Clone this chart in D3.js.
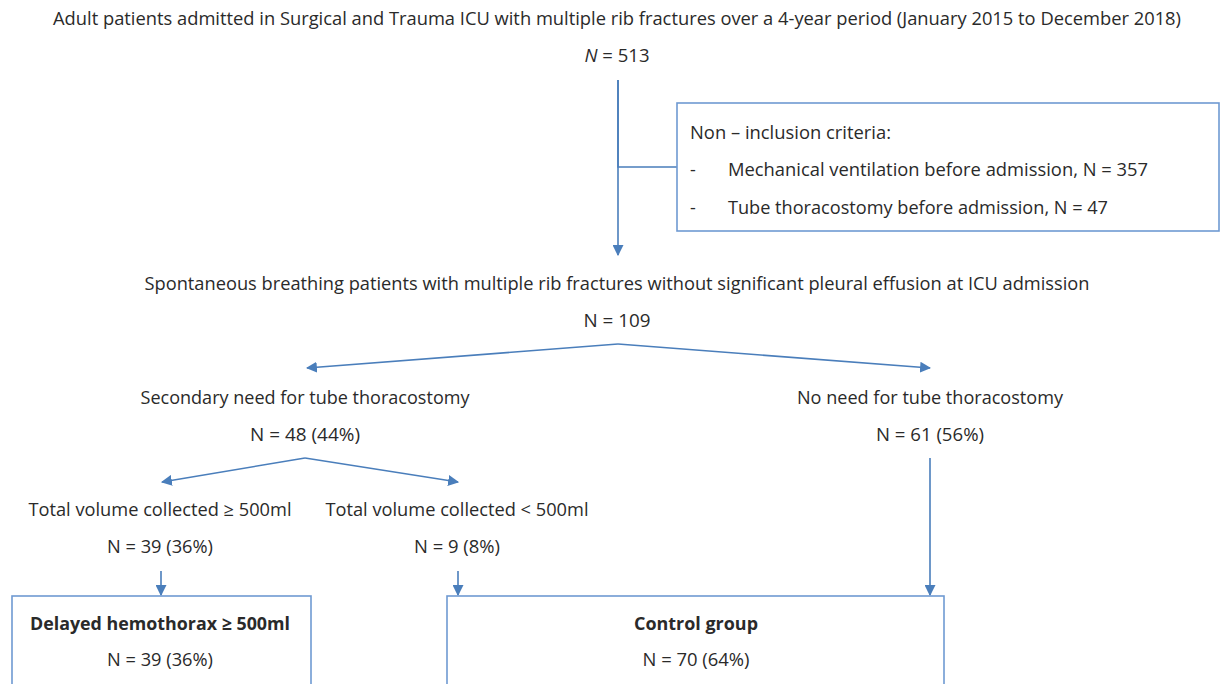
<!DOCTYPE html>
<html>
<head>
<meta charset="utf-8">
<script src="https://d3js.org/d3.v7.min.js"></script>
<style>
  body { margin: 0; background: #fff; }
  text { font-family: "Open Sans", "Noto Sans", sans-serif; fill: #2a2a2a; }
</style>
</head>
<body>
<div id="chart"></div>
<script>
// ---- data ----
var stageLabels = [
  "Adult patients admitted in Surgical and Trauma ICU with multiple rib fractures over a 4-year period (January 2015 to December 2018)",
  "Spontaneous breathing patients with multiple rib fractures without significant pleural effusion at ICU admission",
  "Secondary need for tube thoracostomy",
  "No need for tube thoracostomy",
  "Total volume collected \u2265 500ml",
  "Total volume collected < 500ml"
];
var stageCounts = [513, 109, 48, 61, 39, 9];
var stagePercents = [null, null, "44%", "56%", "36%", "8%"];

var exclusionTitle = "Non \u2013 inclusion criteria:";
var exclusionReasons = ["Mechanical ventilation before admission", "Tube thoracostomy before admission"];
var exclusionCounts = [357, 47];

var groupLabels = ["Delayed hemothorax \u2265 500ml", "Control group"];
var groupCounts = [39, 70];
var groupPercents = ["36%", "64%"];

// ---- layout (pixels) ----
var W = 1221, H = 684;
var lineColor = "#4a7ebb", boxColor = "#6f9ad2";
var fs = 18;

// stage text: center x, label baseline, label width, N width
var stageLayout = [
  { cx: 617, y: 25, w: 1128, nw: 65 },
  { cx: 617, y: 290, w: 945, nw: 67 },
  { cx: 305, y: 404, w: 329, nw: 110 },
  { cx: 930, y: 404, w: 266, nw: 108 },
  { cx: 160, y: 516, w: 263, nw: 106 },
  { cx: 457, y: 516, w: 263, nw: 86 }
];
var nGap = 37;

var svg = d3.select("#chart").append("svg")
  .attr("width", W)
  .attr("height", H);

var defs = svg.append("defs");
defs.append("marker")
  .attr("id", "arrow")
  .attr("viewBox", "0 0 10 10")
  .attr("refX", 9).attr("refY", 5)
  .attr("markerWidth", 11).attr("markerHeight", 11)
  .attr("markerUnits", "userSpaceOnUse")
  .attr("orient", "auto")
  .append("path")
  .attr("d", "M0,0 L10,5 L0,10 Z")
  .attr("fill", lineColor);

var line = d3.line();

function arrow(pts) {
  svg.append("path")
    .attr("d", line(pts))
    .attr("fill", "none")
    .attr("stroke", lineColor)
    .attr("stroke-width", 1.6)
    .attr("marker-end", "url(#arrow)");
}
function plain(pts) {
  svg.append("path")
    .attr("d", line(pts))
    .attr("fill", "none")
    .attr("stroke", lineColor)
    .attr("stroke-width", 1.6);
}
function box(x0, y0, x1, y1) {
  svg.append("rect")
    .attr("x", x0).attr("y", y0)
    .attr("width", x1 - x0).attr("height", y1 - y0)
    .attr("fill", "none")
    .attr("stroke", boxColor)
    .attr("stroke-width", 1.6);
}
function label(txt, cx, y, w, opts) {
  opts = opts || {};
  var t = svg.append("text")
    .attr("x", cx)
    .attr("y", y)
    .attr("text-anchor", opts.left ? "start" : "middle")
    .attr("font-size", opts.size || fs)
    .attr("font-weight", opts.bold ? "bold" : "normal")
    .attr("textLength", w)
    .attr("lengthAdjust", "spacingAndGlyphs");
  return t.text(txt);
}

// ---- connectors ----
plain([[618, 80], [618, 167], [677, 167]]);
arrow([[618, 80], [618, 255]]);
arrow([[618, 344], [307, 368]]);
arrow([[618, 344], [930, 368]]);
arrow([[305, 458], [162, 482]]);
arrow([[305, 458], [458, 482]]);
arrow([[161, 571], [161, 595]]);
arrow([[458, 571], [458, 595]]);
arrow([[930, 458], [930, 595]]);

// ---- boxes ----
box(677, 103, 1219, 231);
box(12, 596, 311, 700);
box(447, 596, 944, 700);

// ---- stage texts ----
stageLabels.forEach(function (s, i) {
  var L = stageLayout[i];
  label(s, L.cx, L.y, L.w);
  var nText = svg.append("text")
    .attr("x", L.cx)
    .attr("y", L.y + nGap)
    .attr("text-anchor", "middle")
    .attr("font-size", fs)
    .attr("textLength", L.nw)
    .attr("lengthAdjust", "spacingAndGlyphs");
  if (i === 0) {
    nText.append("tspan").attr("font-style", "italic").text("N");
    nText.append("tspan").text(" = " + stageCounts[i]);
  } else {
    nText.text("N = " + stageCounts[i] + (stagePercents[i] ? " (" + stagePercents[i] + ")" : ""));
  }
});

// ---- exclusion box text ----
label(exclusionTitle, 690, 139, 201, { left: true });
var exclWidths = [420, 380];
exclusionReasons.forEach(function (r, i) {
  var y = 176 + i * 38;
  svg.append("text").attr("x", 690).attr("y", y).attr("font-size", fs).text("-");
  label(r + ", N = " + exclusionCounts[i], 728, y, exclWidths[i], { left: true });
});

// ---- final groups ----
var groupLayout = [
  { cx: 160, w: 260, nw: 106 },
  { cx: 696, w: 124, nw: 107 }
];
groupLabels.forEach(function (g, i) {
  var L = groupLayout[i];
  label(g, L.cx, 630, L.w, { bold: true });
  label("N = " + groupCounts[i] + " (" + groupPercents[i] + ")", L.cx, 666, L.nw);
});
</script>
</body>
</html>
